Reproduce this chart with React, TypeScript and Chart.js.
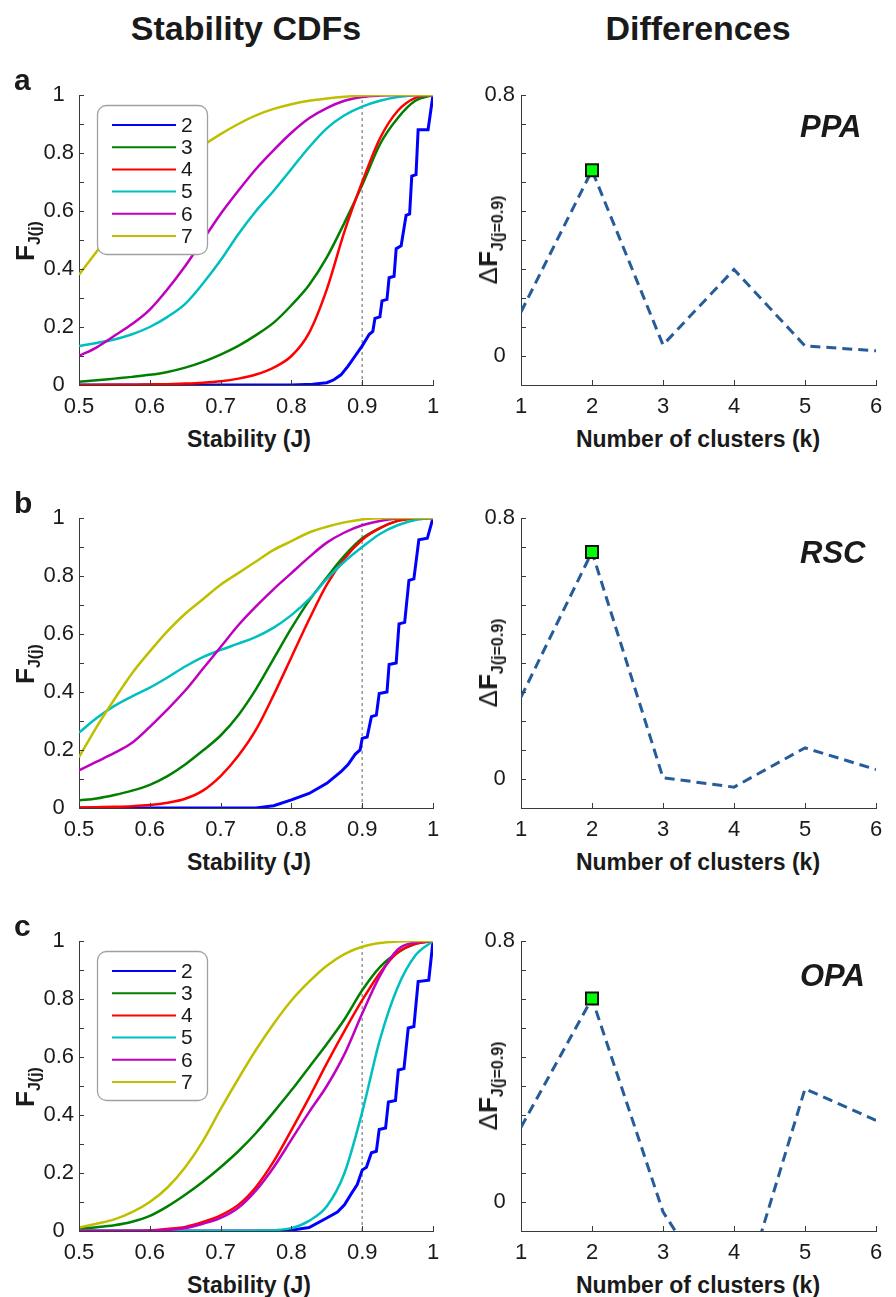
import React, { useEffect, useRef } from "react";
import { Chart, registerables } from "chart.js";
Chart.register(...registerables);

const FONT = '"Liberation Sans", Arial, Helvetica, sans-serif';

// ---------- shared axes ----------
const stabilityGrid = [0.5, 0.525, 0.55, 0.575, 0.6, 0.625, 0.65, 0.675, 0.7, 0.725, 0.75, 0.775, 0.8, 0.825, 0.85, 0.875, 0.9, 0.925, 0.95, 0.975, 1];
const stabilityTicks = [0.5, 0.6, 0.7, 0.8, 0.9, 1];
const stabilityTickLabels = ["0.5", "0.6", "0.7", "0.8", "0.9", "1"];
const cdfTicks = [0, 0.1, 0.2, 0.3, 0.4, 0.5, 0.6, 0.7, 0.8, 0.9, 1];
const cdfTickLabels = ["0", "", "0.2", "", "0.4", "", "0.6", "", "0.8", "", "1"];
const thresholdJ = 0.9;

const seriesLabels = ["2", "3", "4", "5", "6", "7"];
const seriesColors = ["#0000ff", "#008000", "#ff0000", "#00bfbf", "#bf00bf", "#bfbf00"];

const clusterK = [1, 2, 3, 4, 5, 6];
const clusterTickLabels = ["1", "2", "3", "4", "5", "6"];
const diffTicks = [0, 0.0889, 0.1778, 0.2667, 0.3556, 0.4444, 0.5333, 0.6222, 0.7111, 0.8];
const diffTickLabels = ["0", "", "", "", "", "", "", "", "", "0.8"];
const diffAxisMin = -0.0889;
const diffAxisMax = 0.8;

// ---------- PPA ----------
const ppaBlueX = [0.5, 0.8, 0.83, 0.85, 0.86, 0.87, 0.88, 0.89, 0.9, 0.91, 0.915, 0.918, 0.925, 0.928, 0.935, 0.938, 0.945, 0.948, 0.955, 0.962, 0.967, 0.97, 0.976, 0.979, 0.993, 1];
const ppaBlueY = [0, 0, 0.003, 0.008, 0.018, 0.035, 0.065, 0.1, 0.135, 0.175, 0.185, 0.23, 0.235, 0.29, 0.295, 0.37, 0.375, 0.47, 0.48, 0.585, 0.59, 0.72, 0.725, 0.88, 0.88, 1];
const ppaK3 = [0.011, 0.016, 0.022, 0.028, 0.035, 0.045, 0.06, 0.08, 0.105, 0.135, 0.172, 0.215, 0.275, 0.345, 0.44, 0.56, 0.69, 0.83, 0.92, 0.98, 1];
const ppaK4 = [0, 0, 0.001, 0.001, 0.002, 0.003, 0.005, 0.008, 0.013, 0.022, 0.036, 0.06, 0.1, 0.18, 0.33, 0.53, 0.7, 0.85, 0.945, 0.99, 1];
const ppaK5 = [0.134, 0.145, 0.157, 0.175, 0.2, 0.235, 0.28, 0.35, 0.43, 0.52, 0.6, 0.67, 0.745, 0.82, 0.885, 0.93, 0.96, 0.98, 0.993, 0.999, 1];
const ppaK6 = [0.1, 0.13, 0.17, 0.21, 0.26, 0.33, 0.41, 0.5, 0.59, 0.67, 0.745, 0.81, 0.87, 0.92, 0.955, 0.98, 0.993, 0.998, 1, 1, 1];
const ppaK7 = [0.38, 0.46, 0.54, 0.61, 0.66, 0.72, 0.775, 0.825, 0.865, 0.9, 0.93, 0.952, 0.968, 0.98, 0.988, 0.994, 0.998, 1, 1, 1, 1];
const ppaDiff = [0.135, 0.569, 0.034, 0.265, 0.031, 0.016];

// ---------- RSC ----------
const rscBlueX = [0.5, 0.75, 0.775, 0.8, 0.825, 0.85, 0.87, 0.88, 0.89, 0.897, 0.9, 0.907, 0.913, 0.92, 0.924, 0.935, 0.938, 0.948, 0.952, 0.96, 0.966, 0.973, 0.98, 0.992, 1];
const rscBlueY = [0, 0, 0.008, 0.028, 0.05, 0.085, 0.125, 0.15, 0.185, 0.2, 0.24, 0.245, 0.315, 0.32, 0.395, 0.4, 0.495, 0.5, 0.635, 0.64, 0.785, 0.79, 0.925, 0.93, 1];
const rscK3 = [0.026, 0.033, 0.045, 0.06, 0.08, 0.11, 0.15, 0.198, 0.25, 0.32, 0.41, 0.515, 0.62, 0.715, 0.795, 0.87, 0.93, 0.965, 0.99, 1, 1];
const rscK4 = [0.002, 0.003, 0.004, 0.006, 0.01, 0.018, 0.032, 0.06, 0.11, 0.18, 0.27, 0.39, 0.52, 0.65, 0.77, 0.86, 0.925, 0.965, 0.99, 0.998, 1];
const rscK5 = [0.26, 0.31, 0.352, 0.385, 0.415, 0.45, 0.488, 0.52, 0.545, 0.567, 0.59, 0.622, 0.665, 0.72, 0.79, 0.85, 0.9, 0.945, 0.975, 0.993, 1];
const rscK6 = [0.13, 0.16, 0.19, 0.225, 0.28, 0.34, 0.405, 0.48, 0.555, 0.63, 0.695, 0.755, 0.81, 0.865, 0.915, 0.95, 0.975, 0.99, 0.998, 1, 1];
const rscK7 = [0.175, 0.28, 0.375, 0.465, 0.54, 0.61, 0.67, 0.72, 0.77, 0.81, 0.85, 0.89, 0.92, 0.95, 0.97, 0.985, 0.995, 0.999, 1, 1, 1];
const rscDiff = [0.251, 0.696, 0.004, -0.025, 0.0955, 0.029];

// ---------- OPA ----------
const opaBlueX = [0.5, 0.78, 0.8, 0.825, 0.85, 0.865, 0.875, 0.885, 0.893, 0.9, 0.906, 0.913, 0.92, 0.924, 0.933, 0.937, 0.947, 0.951, 0.959, 0.965, 0.973, 0.979, 0.994, 1];
const opaBlueY = [0, 0, 0.003, 0.012, 0.045, 0.065, 0.09, 0.13, 0.16, 0.21, 0.22, 0.27, 0.275, 0.35, 0.355, 0.445, 0.45, 0.555, 0.56, 0.7, 0.705, 0.86, 0.865, 1];
const opaK3 = [0.008, 0.013, 0.02, 0.032, 0.052, 0.085, 0.125, 0.17, 0.22, 0.275, 0.338, 0.41, 0.485, 0.565, 0.645, 0.73, 0.83, 0.91, 0.96, 0.99, 1];
const opaK4 = [0, 0, 0, 0.001, 0.002, 0.007, 0.014, 0.031, 0.054, 0.09, 0.152, 0.24, 0.348, 0.46, 0.578, 0.69, 0.796, 0.89, 0.96, 0.99, 1];
const opaK5 = [0, 0, 0, 0, 0, 0, 0, 0, 0, 0, 0.001, 0.003, 0.01, 0.035, 0.085, 0.2, 0.41, 0.66, 0.84, 0.95, 1];
const opaK6 = [0, 0, 0, 0, 0.001, 0.004, 0.01, 0.025, 0.045, 0.08, 0.14, 0.22, 0.315, 0.41, 0.5, 0.61, 0.75, 0.88, 0.97, 0.995, 1];
const opaK7 = [0.012, 0.025, 0.04, 0.065, 0.1, 0.15, 0.22, 0.31, 0.42, 0.525, 0.625, 0.715, 0.795, 0.86, 0.915, 0.955, 0.98, 0.993, 0.998, 1, 1];
const opaDiff = [0.229, 0.624, -0.03, -0.37, 0.347, 0.25];

const bestKIndex = 1;

// ---------- plugins ----------
const AXIS_COLOR = "#3a3a3a";
const TEXT_COLOR = "#1a1a1a";

const inwardTicks = {
  id: "inwardTicks",
  afterDatasetsDraw(chart: any) {
    const { ctx, chartArea } = chart;
    const xs = chart.scales.x;
    const ys = chart.scales.y;
    ctx.save();
    ctx.strokeStyle = AXIS_COLOR;
    ctx.lineWidth = 1;
    ctx.beginPath();
    xs.ticks.forEach((t: any) => {
      const p = Math.round(xs.getPixelForValue(t.value)) + 0.5;
      ctx.moveTo(p, chartArea.bottom);
      ctx.lineTo(p, chartArea.bottom - 5);
    });
    ys.ticks.forEach((t: any) => {
      const p = Math.round(ys.getPixelForValue(t.value)) + 0.5;
      ctx.moveTo(chartArea.left, p);
      ctx.lineTo(chartArea.left + 5, p);
    });
    ctx.stroke();
    ctx.restore();
  },
};

const boxLegend = {
  id: "boxLegend",
  afterDatasetsDraw(chart: any, _args: any, opts: any) {
    if (!opts || !opts.show) return;
    const { ctx, chartArea } = chart;
    const x0 = chartArea.left + 18;
    const y0 = chartArea.top + 10;
    const w = 110;
    const h = 149;
    ctx.save();
    ctx.beginPath();
    ctx.roundRect(x0 + 0.5, y0 + 0.5, w, h, 9);
    ctx.fillStyle = "#ffffff";
    ctx.fill();
    ctx.strokeStyle = "#a0a0a0";
    ctx.lineWidth = 1.3;
    ctx.stroke();
    const items = chart.data.datasets.filter((d: any) => d.inLegend);
    items.forEach((ds: any, i: number) => {
      const y = y0 + 20 + i * 22.2;
      ctx.beginPath();
      ctx.strokeStyle = ds.borderColor;
      ctx.lineWidth = 2;
      ctx.moveTo(x0 + 15, y);
      ctx.lineTo(x0 + 79, y);
      ctx.stroke();
      ctx.fillStyle = TEXT_COLOR;
      ctx.font = `21px ${FONT}`;
      ctx.textBaseline = "middle";
      ctx.textAlign = "left";
      ctx.fillText(ds.label, x0 + 84, y + 1);
    });
    ctx.restore();
  },
};

const tickFont = { family: FONT, size: 22 };

function makeScaleBorder() {
  return {
    grid: { display: true, drawOnChartArea: false, drawTicks: false },
    border: { display: true, color: AXIS_COLOR, width: 1 },
  };
}

// ---------- panels ----------
type Curve = { xs: number[]; ys: number[] };

function CdfPanel({ top, curves, showLegend }: { top: number; curves: Curve[]; showLegend: boolean }) {
  const ref = useRef<HTMLCanvasElement>(null);
  useEffect(() => {
    const datasets: any[] = curves.map((c, i) => ({
      label: seriesLabels[i],
      inLegend: true,
      data: c.xs.map((x, j) => ({ x, y: c.ys[j] })),
      borderColor: seriesColors[i],
      backgroundColor: seriesColors[i],
      borderWidth: i === 0 ? 3 : 2.5,
      pointRadius: 0,
      tension: 0,
      cubicInterpolationMode: i === 0 ? "default" : "monotone",
      fill: false,
      order: 10 - i,
    }));
    datasets.push({
      label: "threshold",
      inLegend: false,
      data: [
        { x: thresholdJ, y: cdfTicks[0] },
        { x: thresholdJ, y: cdfTicks[cdfTicks.length - 1] },
      ],
      borderColor: "#9a9a9a",
      borderWidth: 1.5,
      borderDash: [3, 3],
      pointRadius: 0,
      order: 30,
    });
    const chart = new Chart(ref.current as HTMLCanvasElement, {
      type: "line",
      data: { datasets },
      options: {
        responsive: false,
        animation: false,
        devicePixelRatio: 1,
        layout: { padding: { left: 0, right: 17, top: 30, bottom: 0 } },
        plugins: {
          legend: { display: false },
          tooltip: { enabled: false },
          boxLegend: { show: showLegend },
        } as any,
        scales: {
          x: {
            type: "linear",
            min: 0.5,
            max: 1,
            afterFit: (s: any) => {
              s.height = 40;
            },
            afterBuildTicks: (s: any) => {
              s.ticks = stabilityTicks.map((v) => ({ value: v }));
            },
            ticks: {
              callback: (_v: any, i: number) => stabilityTickLabels[i],
              font: tickFont,
              color: TEXT_COLOR,
              padding: 9,
              maxRotation: 0,
              autoSkip: false,
            },
            ...makeScaleBorder(),
          },
          y: {
            type: "linear",
            min: 0,
            max: 1,
            afterFit: (s: any) => {
              s.width = 79;
            },
            afterBuildTicks: (s: any) => {
              s.ticks = cdfTicks.map((v) => ({ value: v }));
            },
            ticks: {
              callback: (_v: any, i: number) => cdfTickLabels[i],
              font: tickFont,
              color: TEXT_COLOR,
              padding: 5,
              crossAlign: "center",
              autoSkip: false,
            },
            ...makeScaleBorder(),
          },
        } as any,
      },
      plugins: [inwardTicks, boxLegend],
    } as any);
    return () => chart.destroy();
  }, []);
  return (
    <canvas
      ref={ref}
      width={450}
      height={360}
      style={{ position: "absolute", left: 0, top, width: 450, height: 360 }}
    />
  );
}

function DiffPanel({ top, values }: { top: number; values: number[] }) {
  const ref = useRef<HTMLCanvasElement>(null);
  useEffect(() => {
    const chart = new Chart(ref.current as HTMLCanvasElement, {
      type: "line",
      data: {
        datasets: [
          {
            label: "best",
            data: [{ x: clusterK[bestKIndex], y: values[bestKIndex] }],
            showLine: false,
            pointStyle: "rect",
            pointRadius: 8.5,
            pointBackgroundColor: "#00ff00",
            pointBorderColor: "#111111",
            pointBorderWidth: 2,
            order: 0,
          },
          {
            label: "diff",
            data: clusterK.map((k, i) => ({ x: k, y: values[i] })),
            borderColor: "#265c99",
            borderWidth: 3,
            borderDash: [10, 6],
            pointRadius: 0,
            tension: 0,
            fill: false,
            order: 1,
          },
        ],
      },
      options: {
        responsive: false,
        animation: false,
        devicePixelRatio: 1,
        layout: { padding: { left: 0, right: 20, top: 30, bottom: 0 } },
        plugins: { legend: { display: false }, tooltip: { enabled: false } },
        scales: {
          x: {
            type: "linear",
            min: clusterK[0],
            max: clusterK[clusterK.length - 1],
            afterFit: (s: any) => {
              s.height = 40;
            },
            afterBuildTicks: (s: any) => {
              s.ticks = clusterK.map((v) => ({ value: v }));
            },
            ticks: {
              callback: (_v: any, i: number) => clusterTickLabels[i],
              font: tickFont,
              color: TEXT_COLOR,
              padding: 9,
              maxRotation: 0,
              autoSkip: false,
            },
            ...makeScaleBorder(),
          },
          y: {
            type: "linear",
            min: diffAxisMin,
            max: diffAxisMax,
            afterFit: (s: any) => {
              s.width = 71;
            },
            afterBuildTicks: (s: any) => {
              s.ticks = diffTicks.map((v) => ({ value: v }));
            },
            ticks: {
              callback: (_v: any, i: number) => diffTickLabels[i],
              font: tickFont,
              color: TEXT_COLOR,
              padding: 6,
              crossAlign: "center",
              autoSkip: false,
            },
            ...makeScaleBorder(),
          },
        } as any,
      },
      plugins: [inwardTicks],
    } as any);
    return () => chart.destroy();
  }, []);
  return (
    <canvas
      ref={ref}
      width={446}
      height={360}
      style={{ position: "absolute", left: 450, top, width: 446, height: 360 }}
    />
  );
}

// ---------- text helpers ----------
function Txt({
  x,
  baseline,
  size,
  bold,
  italic,
  align = "center",
  family = FONT,
  factor = 0.8465,
  children,
}: any) {
  const style: any = {
    position: "absolute",
    top: baseline - factor * size,
    fontSize: size,
    lineHeight: `${size}px`,
    fontWeight: bold ? "bold" : "normal",
    fontStyle: italic ? "italic" : "normal",
    fontFamily: family,
    color: TEXT_COLOR,
    whiteSpace: "nowrap",
    left: x,
  };
  if (align === "center") {
    style.transform = "translateX(-50%)";
  }
  return <div style={style}>{children}</div>;
}

function RotTitle({ cx, cy, delta }: { cx: number; cy: number; delta: boolean }) {
  return (
    <div
      style={{
        position: "absolute",
        left: cx,
        top: cy,
        transform: "translate(-50%, -50%) rotate(-90deg)",
        whiteSpace: "nowrap",
        fontFamily: FONT,
        fontSize: 26,
        lineHeight: "26px",
        color: TEXT_COLOR,
      }}
    >
      {delta ? <span style={{ fontWeight: "normal" }}>Δ</span> : null}
      <span style={{ fontWeight: "bold" }}>F</span>
      <span style={{ fontWeight: "bold", fontSize: 16, position: "relative", top: 6 }}>
        {delta ? "J(j=0.9)" : "J(j)"}
      </span>
    </div>
  );
}

const rowLetters = ["a", "b", "c"];
const regionNames = ["PPA", "RSC", "OPA"];

export default function App() {
  const rowOffset = 423;
  const ppaCurves: Curve[] = [
    { xs: ppaBlueX, ys: ppaBlueY },
    { xs: stabilityGrid, ys: ppaK3 },
    { xs: stabilityGrid, ys: ppaK4 },
    { xs: stabilityGrid, ys: ppaK5 },
    { xs: stabilityGrid, ys: ppaK6 },
    { xs: stabilityGrid, ys: ppaK7 },
  ];
  const rscCurves: Curve[] = [
    { xs: rscBlueX, ys: rscBlueY },
    { xs: stabilityGrid, ys: rscK3 },
    { xs: stabilityGrid, ys: rscK4 },
    { xs: stabilityGrid, ys: rscK5 },
    { xs: stabilityGrid, ys: rscK6 },
    { xs: stabilityGrid, ys: rscK7 },
  ];
  const opaCurves: Curve[] = [
    { xs: opaBlueX, ys: opaBlueY },
    { xs: stabilityGrid, ys: opaK3 },
    { xs: stabilityGrid, ys: opaK4 },
    { xs: stabilityGrid, ys: opaK5 },
    { xs: stabilityGrid, ys: opaK6 },
    { xs: stabilityGrid, ys: opaK7 },
  ];
  const rows = [
    { curves: ppaCurves, diff: ppaDiff, legend: true },
    { curves: rscCurves, diff: rscDiff, legend: false },
    { curves: opaCurves, diff: opaDiff, legend: true },
  ];
  return (
    <div
      style={{
        position: "absolute",
        left: 0,
        top: 0,
        width: 896,
        height: 1297,
        background: "#ffffff",
        overflow: "hidden",
        fontFamily: FONT,
      }}
    >
      <Txt x={246} baseline={40} size={34} bold>
        Stability CDFs
      </Txt>
      <Txt x={698} baseline={40} size={34} bold>
        Differences
      </Txt>
      {rows.map((r, i) => {
        const off = i * rowOffset;
        return (
          <React.Fragment key={i}>
            <CdfPanel top={65 + off} curves={r.curves} showLegend={r.legend} />
            <DiffPanel top={65 + off} values={r.diff} />
            <Txt x={14} baseline={90 + off} size={30} bold align="left">
              {rowLetters[i]}
            </Txt>
            <Txt x={249} baseline={447 + off} size={23} bold>
              Stability (J)
            </Txt>
            <Txt x={698} baseline={447 + off} size={23} bold>
              Number of clusters (k)
            </Txt>
            <Txt x={800} baseline={137 + off + (i === 0 ? 0 : 3)} size={31} bold italic align="left">
              {regionNames[i]}
            </Txt>
            <RotTitle cx={27} cy={241 + off} delta={false} />
            <RotTitle cx={490} cy={240 + off} delta={true} />
          </React.Fragment>
        );
      })}
    </div>
  );
}
